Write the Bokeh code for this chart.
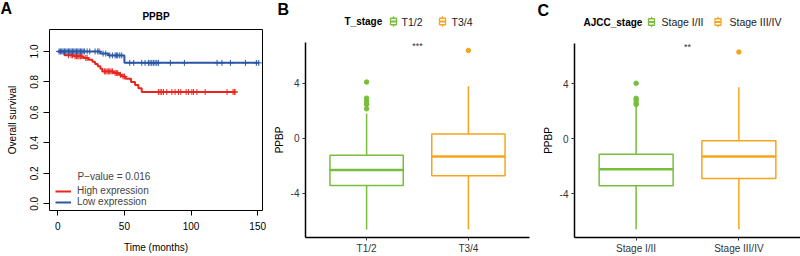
import numpy as np
from bokeh.plotting import figure
from bokeh.layouts import row, column
from bokeh.models import Range1d, FixedTicker, Label, Legend, LegendItem
from bokeh.embed import file_html
from bokeh.resources import INLINE

FONT = "Liberation Sans"

# ---------------- Panel A data (Kaplan-Meier) ----------------
km_title = "PPBP"
pvalue_text = "P\u2212value = 0.016"
high_label = "High expression"
low_label = "Low expression"
km_xlabel = "Time (months)"
km_ylabel = "Overall survival"

high_times = [0, 5, 12, 19, 23, 26, 28, 30, 32, 33.5, 42, 46, 48, 51, 55, 58, 60.5, 63, 133]
high_surv = [1.0, 0.975, 0.968, 0.957, 0.945, 0.932, 0.918, 0.903, 0.887, 0.869, 0.858,
             0.847, 0.836, 0.820, 0.800, 0.780, 0.758, 0.734, 0.734]
high_censor = [8, 10, 11, 13, 14, 15, 16, 17, 18, 21, 22, 35, 36, 37, 38, 39, 40, 41, 43, 44, 45,
               47, 49, 50, 75.5, 76.8, 78, 79.3, 81.8, 85.6, 88, 90.5, 92.3, 96.3, 98, 100.6,
               101.8, 104.4, 110.6, 127, 131.5, 132.5, 133]

low_times = [0, 32, 38, 50, 151]
low_surv = [1.0, 0.986, 0.974, 0.925, 0.925]
low_censor = [1, 2, 3, 4, 5, 6, 7, 8, 9, 10, 11, 12, 13, 14, 15, 16, 17, 18, 19, 20, 22, 24,
              28, 30, 31, 34, 36, 39, 41, 43, 44, 45, 46.5, 48, 54, 57, 63, 65.5, 68, 69.2,
              70.5, 71.7, 73, 74.3, 75.5, 84.5, 95, 119.5, 123.2, 129.5, 140.8, 149, 150.8]

km_xticks = [0, 50, 100, 150]
km_yticks = [0.0, 0.2, 0.4, 0.6, 0.8, 1.0]
km_ytick_labels = ["0.0", "0.2", "0.4", "0.6", "0.8", "1.0"]

# ---------------- Panel B data ----------------
b_groups = ["T1/2", "T3/4"]
b_lower = [-6.62, -6.62]
b_q1 = [-3.42, -2.72]
b_med = [-2.31, -1.33]
b_q3 = [-1.23, 0.31]
b_upper = [1.80, 3.77]
b_out_group = [0, 0, 0, 0, 0, 0, 1]
b_out_vals = [4.08, 2.91, 2.71, 2.55, 2.45, 2.14, 6.37]
b_legend_title = "T_stage"
b_sig = "***"

# ---------------- Panel C data ----------------
c_groups = ["Stage I/II", "Stage III/IV"]
c_lower = [-6.60, -6.60]
c_q1 = [-3.42, -2.89]
c_med = [-2.22, -1.30]
c_q3 = [-1.13, -0.14]
c_upper = [2.35, 3.75]
c_out_group = [0, 0, 0, 0, 0, 1]
c_out_vals = [4.05, 2.95, 2.80, 2.60, 2.50, 6.33]
c_legend_title = "AJCC_stage"
c_sig = "**"

box_ylabel = "PPBP"
box_yticks = [-4, 0, 4]
box_ytick_labels = ["-4", "0", "4"]
box_colors = ["#78BE3C", "#F5A51E"]

RED = "#E8251F"
BLUE = "#2A56A6"

W, H = 800, 256
HH = 28  # height of the shared header strip (panel letters, title, legends)


def surv_at(times, surv, c):
    t = np.asarray(times)
    s = np.asarray(surv)
    idx = np.searchsorted(t, np.asarray(c), side="right") - 1
    return s[idx]


def text_label(p, x, y, text, size="10px", bold=False, align="left", color="black"):
    p.add_layout(Label(x=x, y=y, text=text, text_font=FONT, text_font_size=size,
                       text_font_style="bold" if bold else "normal", text_color=color,
                       text_align=align, text_baseline="middle"))


# ================= Shared header (canvas pixel coordinates) =================
hdr = figure(width=W, height=HH, output_backend="svg", toolbar_location=None,
             x_range=Range1d(0, W), y_range=Range1d(HH, 0),
             x_axis_location=None, y_axis_location=None,
             min_border_left=0, min_border_right=0, min_border_top=0, min_border_bottom=0)
hdr.frame_align = False
hdr.grid.visible = False
hdr.outline_line_color = None
hdr.background_fill_color = "white"
hdr.border_fill_color = "white"

text_label(hdr, 0, 7.5, "A", size="16px", bold=True)
text_label(hdr, 155.5, 16, km_title, size="10px", bold=True, align="center")
text_label(hdr, 277, 8.5, "B", size="16px", bold=True)
text_label(hdr, 537, 9.5, "C", size="16px", bold=True)


def header_legend(title, title_x, groups, key_x, text_x, yc):
    text_label(hdr, title_x, yc, title, size="10px", bold=True)
    kw, kh, ks = 6, 6.5, 2
    for i, g in enumerate(groups):
        col = box_colors[i]
        kx = key_x[i]
        hdr.segment(x0=[kx, kx], y0=[yc - kh / 2 - ks, yc + kh / 2],
                    x1=[kx, kx], y1=[yc - kh / 2, yc + kh / 2 + ks],
                    line_color=col, line_width=1.3)
        hdr.rect(x=[kx], y=[yc], width=kw, height=kh, fill_color="white",
                 line_color=col, line_width=1.3)
        hdr.segment(x0=[kx - kw / 2], y0=[yc], x1=[kx + kw / 2], y1=[yc],
                    line_color=col, line_width=2)
        text_label(hdr, text_x[i], yc, g, size="10.5px", color="#1a1a1a")


header_legend(b_legend_title, 344, b_groups, [393, 442], [401, 451], 21)
header_legend(c_legend_title, 583, c_groups, [651, 717.5], [661, 729], 21.5)

# ================= Panel A =================
A_BOT = 210 - HH
pA = figure(width=270, height=H - HH, output_backend="svg", toolbar_location=None,
            x_range=Range1d(-6.2, 153.6), y_range=Range1d(-0.044, 1.144),
            min_border_left=49, min_border_right=8, min_border_top=1,
            min_border_bottom=H - HH - A_BOT)
pA.frame_align = False
pA.grid.visible = False
pA.outline_line_color = "black"
pA.outline_line_width = 1
pA.background_fill_color = "white"
pA.border_fill_color = "white"

r_high = pA.step(high_times, high_surv, mode="after", line_color=RED, line_width=2)
r_low = pA.step(low_times, low_surv, mode="after", line_color=BLUE, line_width=2)
pA.scatter(high_censor, surv_at(high_times, high_surv, high_censor), marker="cross",
           size=6, line_color=RED, line_width=1)
pA.scatter(low_censor, surv_at(low_times, low_surv, low_censor), marker="cross",
           size=6, line_color=BLUE, line_width=1)

for ax in (pA.xaxis[0], pA.yaxis[0]):
    ax.axis_line_color = None
    ax.major_tick_in = 0
    ax.minor_tick_line_color = None
    ax.major_tick_line_color = "black"
    ax.major_label_text_font = FONT
    ax.major_label_text_font_size = "10px"
    ax.major_label_text_color = "black"
    ax.axis_label_text_font = FONT
    ax.axis_label_text_font_size = "10px"
    ax.axis_label_text_font_style = "normal"
    ax.axis_label_text_color = "black"

pA.xaxis.ticker = FixedTicker(ticks=km_xticks)
pA.xaxis.major_tick_out = 5
pA.xaxis.major_label_standoff = 6
pA.xaxis.axis_label = km_xlabel
pA.xaxis.axis_label_standoff = 9

pA.yaxis.ticker = FixedTicker(ticks=km_yticks)
pA.yaxis.major_label_overrides = {t: l for t, l in zip(km_yticks, km_ytick_labels)}
pA.yaxis.major_label_orientation = "vertical"
pA.yaxis.major_tick_out = 6
pA.yaxis.major_label_standoff = 5
pA.yaxis.axis_label = km_ylabel
pA.yaxis.axis_label_standoff = 10

pA.add_layout(Label(x=77 - 49, y=210 - 176, x_units="screen", y_units="screen",
                    text=pvalue_text, text_font=FONT, text_font_size="10px",
                    text_align="left", text_baseline="middle"))

legA = Legend(items=[LegendItem(label=high_label, renderers=[r_high]),
                     LegendItem(label=low_label, renderers=[r_low])],
              location=(6, 3), orientation="vertical",
              border_line_color=None, background_fill_alpha=0,
              padding=0, margin=0, spacing=0,
              glyph_width=16, glyph_height=10, label_height=10, label_standoff=6,
              label_text_font=FONT, label_text_font_size="10px")
pA.add_layout(legA)


# ================= Box panels =================
def box_panel(width, fl, fr, ft, fb, groups, lower, q1, med, q3, upper,
              out_group, out_vals, sig):
    p = figure(width=width, height=H - HH, output_backend="svg", toolbar_location=None,
               x_range=Range1d(0.4, 2.6), y_range=Range1d(-7.2, 6.95),
               min_border_left=fl, min_border_right=fr, min_border_top=ft - HH,
               min_border_bottom=H - fb)
    p.frame_align = False
    p.grid.visible = False
    p.outline_line_color = None
    p.background_fill_color = "white"
    p.border_fill_color = "white"

    pos = list(range(1, len(groups) + 1))
    bw = 0.72
    for i, xpos in enumerate(pos):
        col = box_colors[i]
        p.segment(x0=[xpos], y0=[q3[i]], x1=[xpos], y1=[upper[i]], line_color=col, line_width=1.5)
        p.segment(x0=[xpos], y0=[q1[i]], x1=[xpos], y1=[lower[i]], line_color=col, line_width=1.5)
        p.vbar(x=[xpos], width=bw, top=[q3[i]], bottom=[q1[i]], fill_color="white",
               line_color=col, line_width=1.5)
        p.segment(x0=[xpos - bw / 2], y0=[med[i]], x1=[xpos + bw / 2], y1=[med[i]],
                  line_color=col, line_width=2.5)
        ox = [pos[g] for g, v in zip(out_group, out_vals) if g == i]
        oy = [v for g, v in zip(out_group, out_vals) if g == i]
        p.scatter(ox, oy, size=4.5, fill_color=col, line_color=col)

    xa = p.xaxis[0]
    ya = p.yaxis[0]
    for ax in (xa, ya):
        ax.axis_line_color = "black"
        ax.axis_line_width = 1.5
        ax.major_tick_in = 0
        ax.major_tick_out = 3
        ax.major_tick_line_color = "#333333"
        ax.minor_tick_line_color = None
        ax.major_label_text_font = FONT
        ax.major_label_text_font_size = "10px"
        ax.major_label_text_color = "#333333"
        ax.axis_label_text_font = FONT
        ax.axis_label_text_font_size = "10px"
        ax.axis_label_text_font_style = "normal"
        ax.axis_label_text_color = "black"
    xa.ticker = FixedTicker(ticks=pos)
    xa.major_label_overrides = {p_: g for p_, g in zip(pos, groups)}
    xa.major_label_standoff = 2
    ya.ticker = FixedTicker(ticks=box_yticks)
    ya.major_label_overrides = {t: l for t, l in zip(box_yticks, box_ytick_labels)}
    ya.major_label_standoff = 3
    ya.axis_label = box_ylabel
    ya.axis_label_standoff = 3

    p.add_layout(Label(x=1.5, y=6.7, text=sig, text_font=FONT, text_font_size="9px",
                       text_color="#333333", text_align="center", text_baseline="middle"))
    return p


pB = box_panel(265, 33, 6, 42, 238, b_groups, b_lower, b_q1, b_med, b_q3, b_upper,
               b_out_group, b_out_vals, b_sig)
pC = box_panel(265, 39, 0, 43, 239, c_groups, c_lower, c_q1, c_med, c_q3, c_upper,
               c_out_group, c_out_vals, c_sig)

layout = column(hdr, row(pA, pB, pC, spacing=0), spacing=0)
open("out.html", "w").write(file_html(layout, INLINE))
